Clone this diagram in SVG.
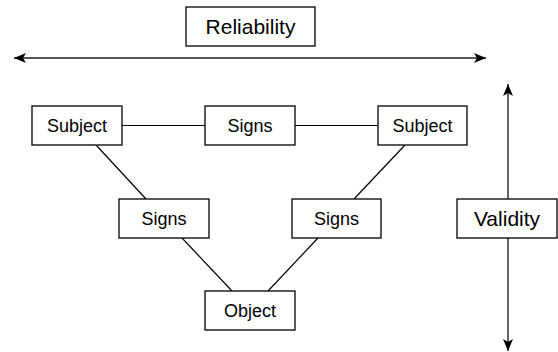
<svg xmlns="http://www.w3.org/2000/svg" width="558" height="352" viewBox="0 0 558 352">
<style>
.box{fill:#fff;stroke:#000;stroke-width:1.3}
.t{font-family:"Liberation Sans",Arial,sans-serif;font-size:18px;fill:#000;text-anchor:middle}
.tl{font-size:21px}
.c{stroke:#000;stroke-width:1.2;fill:none}
.a{stroke:#222;stroke-width:1.4;fill:none}
</style>
<defs>
<marker id="ah" markerUnits="userSpaceOnUse" markerWidth="13" markerHeight="11" refX="12" refY="5" orient="auto-start-reverse">
<path d="M0,0 L12,5 L0,10 L3,5 Z" fill="#000"/>
</marker>
</defs>
<g id="connectors">
<line class="c" x1="122" y1="125.5" x2="205" y2="125.5"/>
<line class="c" x1="295" y1="125.5" x2="378" y2="125.5"/>
<line class="c" x1="96" y1="145" x2="146" y2="199"/>
<line class="c" x1="405" y1="145" x2="354" y2="199"/>
<line class="c" x1="182" y1="238" x2="232" y2="291"/>
<line class="c" x1="318" y1="238" x2="268" y2="291"/>
<line class="a" x1="14" y1="58" x2="486" y2="58" marker-start="url(#ah)" marker-end="url(#ah)"/>
<line class="c" x1="508" y1="84" x2="508" y2="351" marker-start="url(#ah)" marker-end="url(#ah)"/>
</g>
<g id="reliability"><rect class="box" x="186" y="7" width="129" height="39"/><text class="t tl" x="250.5" y="34">Reliability</text></g>
<g id="validity"><rect class="box" x="457" y="199" width="100" height="39"/><text class="t tl" x="507" y="226">Validity</text></g>
<g id="subject-left"><rect class="box" x="32" y="106" width="90" height="39"/><text class="t" x="77" y="132">Subject</text></g>
<g id="signs-top"><rect class="box" x="205" y="106" width="90" height="39"/><text class="t" x="250" y="132">Signs</text></g>
<g id="subject-right"><rect class="box" x="378" y="106" width="89" height="39"/><text class="t" x="422.5" y="132">Subject</text></g>
<g id="signs-left"><rect class="box" x="119" y="199" width="90" height="39"/><text class="t" x="164" y="225">Signs</text></g>
<g id="signs-right"><rect class="box" x="292" y="199" width="89" height="39"/><text class="t" x="336.5" y="225">Signs</text></g>
<g id="object"><rect class="box" x="205" y="291" width="90" height="39"/><text class="t" x="250" y="317">Object</text></g>
</svg>
